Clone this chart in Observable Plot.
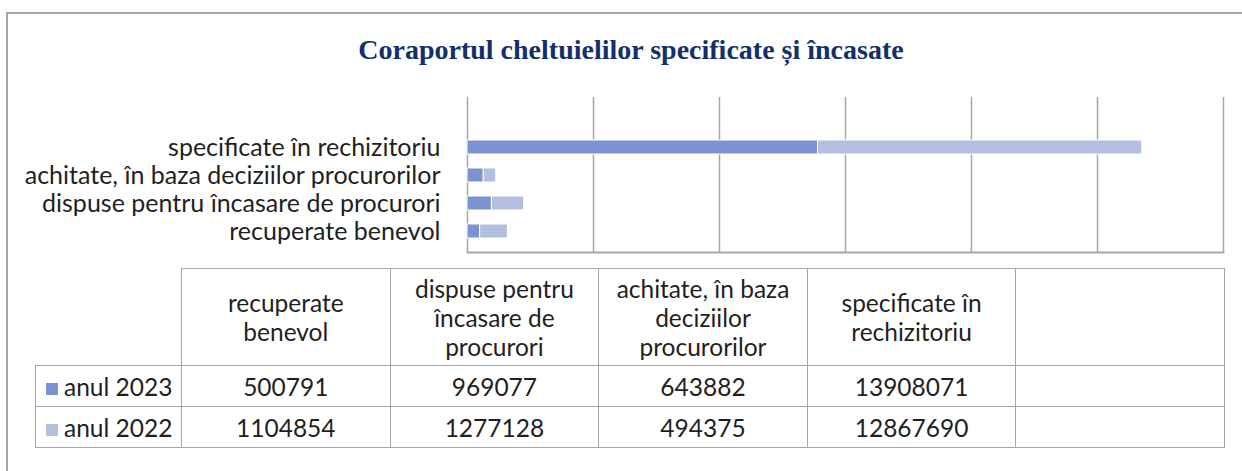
<!DOCTYPE html>
<html>
<head>
<meta charset="utf-8">
<script src="https://cdn.jsdelivr.net/npm/d3@7"></script>
<script src="https://cdn.jsdelivr.net/npm/@observablehq/plot@0.6"></script>
<style>
  html, body { margin: 0; padding: 0; background: #fff; }
  body { width: 1242px; height: 471px; position: relative; overflow: hidden; font-family: Lato, "Open Sans", sans-serif; }
  #box { position: absolute; left: 6px; top: 12px; width: 1300px; height: 500px; border-left: 2px solid #a6a6a6; border-top: 2px solid #a6a6a6; }
  #title { position: absolute; left: 0; top: 34px; width: 1262px; text-align: center; font-family: "Liberation Serif", "Times New Roman", serif; font-weight: bold; font-size: 28px; color: #132f6c; line-height: 32px; }
  #chart { position: absolute; left: 0; top: 0; }
  #tbl { position: absolute; left: 35px; top: 268px; border-collapse: collapse; table-layout: fixed; font-family: Lato, sans-serif; font-size: 24.5px; color: #1f1f1f; }
  #tbl td { border: 1px solid #a6a6a6; text-align: center; padding: 0; }
  #tbl td.blank { border-top: none; border-left: none; }
  #tbl tr.head td { height: 96px; line-height: 29px; }
  #tbl tr.data td { height: 40px; }
  #tbl td.rowh { text-align: left; padding-left: 10px; white-space: nowrap; }
  .key { display: inline-block; width: 12px; height: 12px; margin-right: 6px; vertical-align: 1px; }
</style>
</head>
<body>
<div id="box"></div>
<div id="title"></div>
<div id="chart"></div>
<table id="tbl"></table>
<script>
const titleText = "Coraportul cheltuielilor specificate și încasate";
const categories = ["recuperate benevol", "dispuse pentru încasare de procurori", "achitate, în baza deciziilor procurorilor", "specificate în rechizitoriu", ""];
const headerLines = [["recuperate", "benevol"], ["dispuse pentru", "încasare de", "procurori"], ["achitate, în baza", "deciziilor", "procurorilor"], ["specificate în", "rechizitoriu"], []];
const seriesNames = ["anul 2023", "anul 2022"];
const values2023 = [500791, 969077, 643882, 13908071, null];
const values2022 = [1104854, 1277128, 494375, 12867690, null];
const seriesColors = ["#7b93d0", "#b4bfe0"];
const gridTicks = [0, 5000000, 10000000, 15000000, 20000000, 25000000, 30000000];

document.getElementById("title").textContent = titleText;

const seriesValues = [values2023, values2022];
const rows = [];
seriesNames.forEach((s, si) => {
  categories.forEach((c, ci) => {
    if (seriesValues[si][ci] != null) rows.push({category: c, series: s, value: seriesValues[si][ci]});
  });
});

const chart = Plot.plot({
  width: 1242,
  height: 260,
  marginLeft: 467,
  marginRight: 19,
  marginTop: 97,
  marginBottom: 8,
  style: {fontFamily: "Lato, sans-serif", fontSize: "25px", color: "#1f1f1f", background: "transparent"},
  x: {domain: [0, 30000000], axis: null},
  y: {domain: categories.slice().reverse(), padding: 0.5, label: null},
  color: {domain: seriesNames, range: seriesColors},
  marks: [
    Plot.ruleX(gridTicks, {stroke: "#a6a6a6", strokeWidth: 1.5}),
    Plot.frame({anchor: "bottom", stroke: "#a6a6a6", strokeWidth: 2}),
    Plot.barX(rows, Plot.stackX({y: "category", x: "value", fill: "series", order: seriesNames, stroke: "white", strokeWidth: 1})),
    Plot.axisY({tickSize: 0, tickPadding: 27, fontSize: 25, label: null})
  ]
});
document.getElementById("chart").appendChild(chart);

// data table
const tbl = document.getElementById("tbl");
const colgroup = document.createElement("colgroup");
const c0 = document.createElement("col"); c0.style.width = "146px"; colgroup.appendChild(c0);
categories.forEach(() => { const c = document.createElement("col"); c.style.width = "208.6px"; colgroup.appendChild(c); });
tbl.appendChild(colgroup);
const head = document.createElement("tr"); head.className = "head";
const blank = document.createElement("td"); blank.className = "blank"; head.appendChild(blank);
headerLines.forEach(lines => {
  const td = document.createElement("td");
  lines.forEach((l, i) => { if (i) td.appendChild(document.createElement("br")); td.appendChild(document.createTextNode(l)); });
  head.appendChild(td);
});
tbl.appendChild(head);
seriesNames.forEach((s, si) => {
  const tr = document.createElement("tr"); tr.className = "data";
  const th = document.createElement("td"); th.className = "rowh";
  const key = document.createElement("span"); key.className = "key"; key.style.background = seriesColors[si];
  th.appendChild(key); th.appendChild(document.createTextNode(s));
  tr.appendChild(th);
  seriesValues[si].forEach(v => {
    const td = document.createElement("td"); td.textContent = v == null ? "" : String(v); tr.appendChild(td);
  });
  tbl.appendChild(tr);
});
</script>
</body>
</html>
